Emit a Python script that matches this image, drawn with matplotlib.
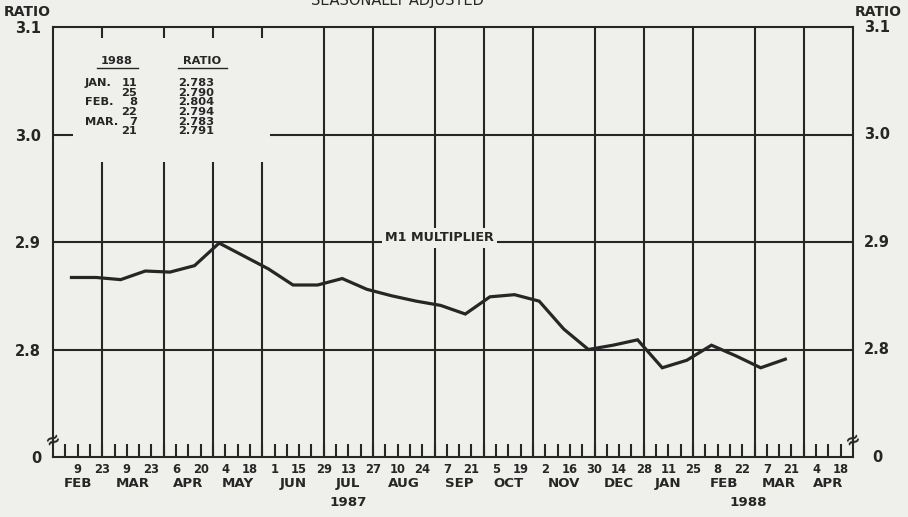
"""
M1 multiplier, seasonally adjusted, biweekly, Feb 1987 - Mar 1988.
"""
import matplotlib

matplotlib.use("Agg")
import matplotlib.dates as mdates
import matplotlib.pyplot as plt
import pandas as pd
from matplotlib.patches import Rectangle

# --- data -------------------------------------------------------------
dates = pd.date_range("1987-02-09", "1988-03-21", freq="14D")
ratio = [
    2.867, 2.867, 2.865, 2.873, 2.872, 2.878, 2.899, 2.887, 2.875, 2.860,
    2.860, 2.866, 2.856, 2.850, 2.845, 2.841, 2.833, 2.849, 2.851, 2.845,
    2.819, 2.800, 2.804, 2.809, 2.783, 2.790, 2.804, 2.794, 2.783, 2.791,
]
table_months = ["JAN.", "", "FEB.", "", "MAR.", ""]

y_ticks = [2.7, 2.8, 2.9, 3.0, 3.1]
y_ticklabels = ["0", "2.8", "2.9", "3.0", "3.1"]

month_names = ["FEB", "MAR", "APR", "MAY", "JUN", "JUL", "AUG", "SEP",
               "OCT", "NOV", "DEC", "JAN", "FEB", "MAR", "APR"]
years = ["1987", "1988"]

# --- axis layout --------------------------------------------------------
weeks = pd.date_range("1987-01-26", "1988-04-25", freq="7D")
day_ticks = pd.date_range("1987-02-09", "1988-04-18", freq="14D")
# last Monday of each month (Feb 1987 .. Apr 1988) -> vertical rules
month_ends = weeks.to_series().groupby([weeks.year, weeks.month]).max()
month_ends = pd.DatetimeIndex(month_ends.values)[1:]

INK = "#262626"
BG = "#efefec"
W, H = 908, 517


def fx(px):
    return px / W


def fy(py):
    return 1 - py / H


fig = plt.figure(figsize=(W / 100, H / 100), dpi=100, facecolor=BG)
ax = fig.add_axes([fx(53), fy(457), fx(853) - fx(53), fy(27) - fy(457)])
ax.set_facecolor(BG)

x0, x1 = mdates.date2num(weeks[0]), mdates.date2num(weeks[-1])
ax.set_xlim(x0, x1)
ax.set_ylim(2.7, 3.1)

# grid
for d in month_ends[:-1]:
    ax.axvline(mdates.date2num(d), color=INK, lw=1.5, zorder=1)
for v in [2.8, 2.9, 3.0]:
    ax.axhline(v, color=INK, lw=1.5, zorder=1)

# blank area for the inset table
ax.add_patch(Rectangle((20 / 800, (457 - 162) / 430), 197 / 800, 124 / 430,
                       transform=ax.transAxes, facecolor=BG, edgecolor="none",
                       zorder=1.5))

# data line (plotted mid-period)
xs = mdates.date2num(dates - pd.Timedelta(days=3.5))
ax.plot(xs, ratio, color=INK, lw=2.3, zorder=3, solid_joinstyle="miter")

for s in ax.spines.values():
    s.set_color(INK)
    s.set_linewidth(1.5)

# x ticks: biweekly labelled, weekly marks
ax.set_xticks(mdates.date2num(day_ticks))
ax.set_xticklabels([str(d.day) for d in day_ticks])
ax.set_xticks(mdates.date2num(weeks[1:-1]), minor=True)
ax.tick_params(axis="x", which="both", direction="in", length=9.5,
               width=1.5, color=INK, pad=4)
ax.tick_params(axis="x", which="major", labelsize=8.3, labelcolor=INK)
for t in ax.get_xticklabels():
    t.set_fontweight("bold")

# y ticks (left as tick labels, right as centred texts)
ax.set_yticks(y_ticks)
ax.set_yticklabels(y_ticklabels, fontweight="bold")
ax.tick_params(axis="y", length=0, labelsize=10.5, labelcolor=INK, pad=8.5)
for v, lab in zip(y_ticks, y_ticklabels):
    ax.annotate(lab, (1, v), xycoords=("axes fraction", "data"),
                xytext=(17.5, 0), textcoords="offset points",
                ha="center", va="center", fontsize=10.5, fontweight="bold",
                color=INK)

# month labels centred between rules
bounds = [weeks[0]] + list(month_ends)
for name, a, b in zip(month_names, bounds[:-1], bounds[1:]):
    xm = (mdates.date2num(a) + mdates.date2num(b)) / 2
    ax.annotate(name, (xm, 0), xycoords=("data", "axes fraction"),
                xytext=(0, -19), textcoords="offset points",
                ha="center", va="center", fontsize=9.6, fontweight="bold",
                color=INK)

# year labels
year_bounds = [weeks[0], month_ends[month_ends.year == 1987][-1], weeks[-1]]
for name, a, b in zip(years, year_bounds[:-1], year_bounds[1:]):
    xm = (mdates.date2num(a) + mdates.date2num(b)) / 2
    ax.annotate(name, (xm, 0), xycoords=("data", "axes fraction"),
                xytext=(0, -32.5), textcoords="offset points",
                ha="center", va="center", fontsize=9.6, fontweight="bold",
                color=INK)

# axis breaks
for xa in (0, 1):
    ax.text(xa, (457 - 440) / 430, "≈", transform=ax.transAxes, ha="center",
            va="center", fontsize=13, fontweight="bold", color=INK,
            rotation=25, zorder=5)

# series label on the 2.9 rule
ax.annotate("M1 MULTIPLIER", (mdates.date2num(pd.Timestamp("1987-09-03")), 2.9),
            ha="center", va="center", xytext=(0, 3), textcoords="offset points",
            fontsize=9.2, fontweight="bold", color=INK, zorder=4,
            bbox=dict(boxstyle="square,pad=0.25", fc=BG, ec="none"))

# header texts
fig.text(fx(397), fy(8), "SEASONALLY ADJUSTED", ha="center", va="bottom",
         fontsize=10.5, color=INK)
for xc in (27, 878):
    fig.text(fx(xc), fy(12), "RATIO", ha="center", va="center",
             fontsize=10, fontweight="bold", color=INK)

# inset table
tkw = dict(fontsize=8.2, fontweight="bold", color=INK, va="center")
fig.text(fx(117), fy(61), "1988", ha="center", **tkw)
fig.text(fx(202), fy(61), "RATIO", ha="center", **tkw)
fig.add_artist(plt.Line2D([fx(97), fx(138)], [fy(68), fy(68)], color=INK, lw=1))
fig.add_artist(plt.Line2D([fx(178), fx(227)], [fy(68), fy(68)], color=INK, lw=1))
for i, (m, d, v) in enumerate(zip(table_months, dates[-6:], ratio[-6:])):
    yr = 83 + i * 9.7
    fig.text(fx(85), fy(yr), m, ha="left", **tkw)
    fig.text(fx(137), fy(yr), str(d.day), ha="right", **tkw)
    fig.text(fx(178), fy(yr), f"{v:.3f}", ha="left", **tkw)

fig.savefig("out.png", dpi=100, facecolor=BG)
